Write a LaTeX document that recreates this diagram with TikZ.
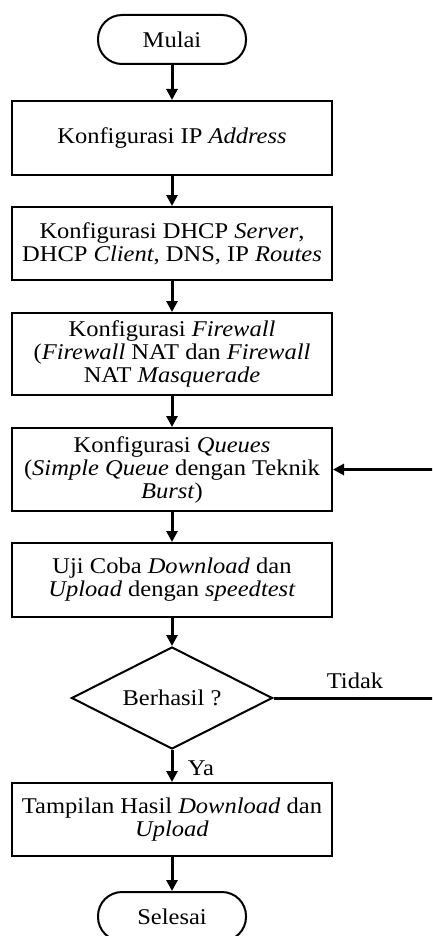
\documentclass[tikz,border=0pt]{standalone}
\usepackage{fontspec}
\setmainfont{Liberation Serif}[FakeStretch=1.09]
\usetikzlibrary{shapes.geometric,arrows.meta}

\tikzset{
  flowtext/.style={font=\fontsize{22.5}{23}\selectfont, align=center, inner sep=0pt},
  process/.style={flowtext, draw, line width=2pt, rectangle, minimum width=320pt},
  terminal/.style={flowtext, draw, line width=2pt, rectangle, rounded corners=24pt,
                   minimum width=148pt, minimum height=49pt},
  decision/.style={flowtext, draw, line width=2pt, diamond, aspect=1.97,
                   minimum width=201pt, minimum height=102pt},
  flow/.style={line width=3pt, -{Triangle[length=11pt,width=11pt]}},
  tag/.style={font=\fontsize{22.5}{23}\selectfont, inner sep=0pt}
}

\begin{document}
\begin{tikzpicture}[x=1pt,y=-1pt]
\useasboundingbox (0,0) rectangle (432,936);
\clip (0,0) rectangle (432,936);

% steps of the procedure
\node[terminal] (mulai) at (172,39.5) {Mulai};
\node[process, minimum height=74pt] (ip) at (172,138) {Konfigurasi IP \textit{Address}};
\node[process, minimum height=73pt] (dhcp) at (172,243.5)
  {Konfigurasi DHCP \textit{Server},\\DHCP \textit{Client}, DNS, IP \textit{Routes}};
\node[process, minimum height=82pt] (fw) at (172,354)
  {Konfigurasi \textit{Firewall}\\(\textit{Firewall} NAT dan \textit{Firewall}\\NAT \textit{Masquerade}};
\node[process, minimum height=83pt] (queue) at (172,469.5)
  {Konfigurasi \textit{Queues}\\(\textit{Simple Queue} dengan Teknik\\\textit{Burst})};
\node[process, minimum height=74pt] (uji) at (172,580)
  {Uji Coba \textit{Download} dan\\\textit{Upload} dengan \textit{speedtest}};
\node[decision] (cek) at (172,698) {Berhasil ?};
\node[process, minimum height=73pt] (hasil) at (172,819.5)
  {Tampilan Hasil \textit{Download} dan\\\textit{Upload}};
\node[terminal] (selesai) at (172,916.5) {Selesai};

% main flow
\draw[flow] (mulai) -- (ip);
\draw[flow] (ip) -- (dhcp);
\draw[flow] (dhcp) -- (fw);
\draw[flow] (fw) -- (queue);
\draw[flow] (queue) -- (uji);
\draw[flow] (uji) -- (cek);
\draw[flow] (cek) -- (hasil);
\draw[flow] (hasil) -- (selesai);

% retry loop back to the queue configuration
\coordinate (loop) at (438,698);
\draw[flow] (cek.east) -- (loop) |- (queue.east);

% branch labels
\node[tag] (ya) at (201,768) {Ya};
\node[tag] (tidak) at (355,681) {Tidak};
\end{tikzpicture}
\end{document}
